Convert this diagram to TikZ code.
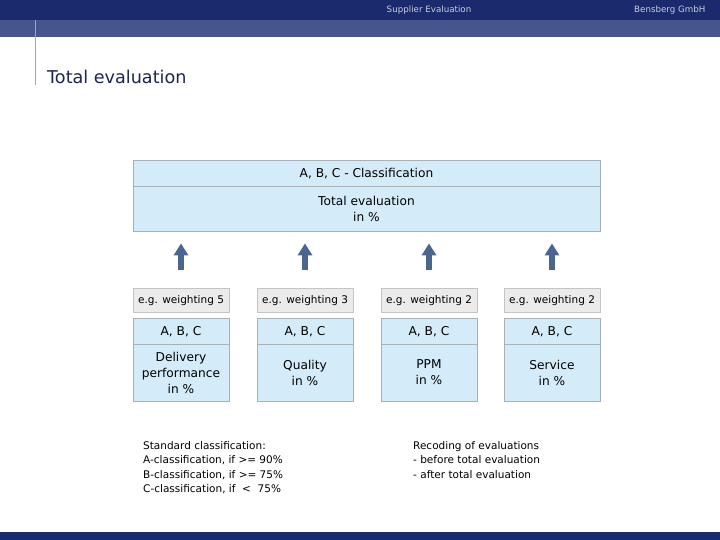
\documentclass[tikz,border=0pt]{standalone}
\usepackage{fontspec}
\setmainfont{DejaVu Sans}
\usetikzlibrary{arrows.meta}
\definecolor{navy}{HTML}{1A2A6C}
\definecolor{navylight}{HTML}{46558D}
\definecolor{boxblue}{HTML}{D4ECFA}
\definecolor{boxedge}{HTML}{A8B0B8}
\definecolor{graybox}{HTML}{EBEBEB}
\definecolor{grayedge}{HTML}{C4C4C4}
\definecolor{arrowblue}{HTML}{4A6690}
\definecolor{titlecol}{HTML}{1C2454}
\definecolor{headtext}{HTML}{C8CCE0}
\begin{document}
\begin{tikzpicture}[x=1pt,y=-1pt,
  bluebox/.style={draw=boxedge,fill=boxblue,line width=0.8pt,inner sep=0pt,align=center,text depth=0pt,font=\fontsize{12.2}{16}\selectfont},
  graybx/.style={draw=grayedge,fill=graybox,line width=0.8pt,inner sep=0pt,align=center,text depth=0pt,font=\fontsize{10.5}{12}\selectfont,minimum width=96pt,minimum height=24pt},
  uparrow/.style={draw=arrowblue,line width=5.5pt,-{Triangle[width=14pt,length=12pt]},shorten <=18pt,shorten >=12pt},
  note/.style={align=left,anchor=north west,inner sep=0pt,font=\fontsize{10.5}{14.6}\selectfont}
]
\useasboundingbox (0,0) rectangle (720,540);
% header
\fill[navy] (0,0) rectangle (720,20);
\fill[navylight] (0,20) rectangle (720,37.5);
\fill[navy] (0,532) rectangle (720,540);
\draw[gray!70!white,line width=0.8pt] (35,20) -- (35,85);
\node[text=headtext,font=\fontsize{8.7}{10}\selectfont] (hd) at (429,10) {Supplier Evaluation};
\node[text=headtext,font=\fontsize{8.7}{10}\selectfont,anchor=east] (co) at (709,10) {Bensberg GmbH};
\node[text=titlecol,font=\fontsize{17.6}{19}\selectfont,anchor=south west,inner sep=0pt] (title) at (47,84) {Total evaluation};
% top box
\node[bluebox,minimum width=467pt,minimum height=26pt] (cls) at (366.5,173) {A, B, C - Classification};
\node[bluebox,minimum width=467pt,minimum height=45pt] (tot) at (366.5,208.5) {Total evaluation\\in \%};
% weighting boxes
\node[graybx] (w1) at (181,300) {e.g. weighting 5};
\node[graybx] (w2) at (305,300) {e.g. weighting 3};
\node[graybx] (w3) at (429,300) {e.g. weighting 2};
\node[graybx] (w4) at (552,300) {e.g. weighting 2};
% class boxes
\foreach \i/\x in {1/181,2/305,3/429,4/552}{
  \node[bluebox,minimum width=96pt,minimum height=26pt] (c\i) at (\x,331) {A, B, C};
}
\node[bluebox,minimum width=96pt,minimum height=57pt] (m1) at (181,372.5) {Delivery\\performance\\in \%};
\node[bluebox,minimum width=96pt,minimum height=57pt] (m2) at (305,372.5) {Quality\\in \%};
\node[bluebox,minimum width=96pt,minimum height=57pt] (m3) at (429,372.5) {PPM\\in \%};
\node[bluebox,minimum width=96pt,minimum height=57pt] (m4) at (552,372.5) {Service\\in \%};
% arrows
\foreach \i in {1,2,3,4}{
  \draw[uparrow] (w\i.north) -- (w\i.north |- tot.south);
}
% notes
\node[note] (n1) at (143,441) {Standard classification:\\A-classification, if >= 90\%\\B-classification, if >= 75\%\\C-classification, if \ < \ 75\%};
\node[note] (n2) at (413,441) {Recoding of evaluations\\- before total evaluation\\- after total evaluation};
\end{tikzpicture}
\end{document}
